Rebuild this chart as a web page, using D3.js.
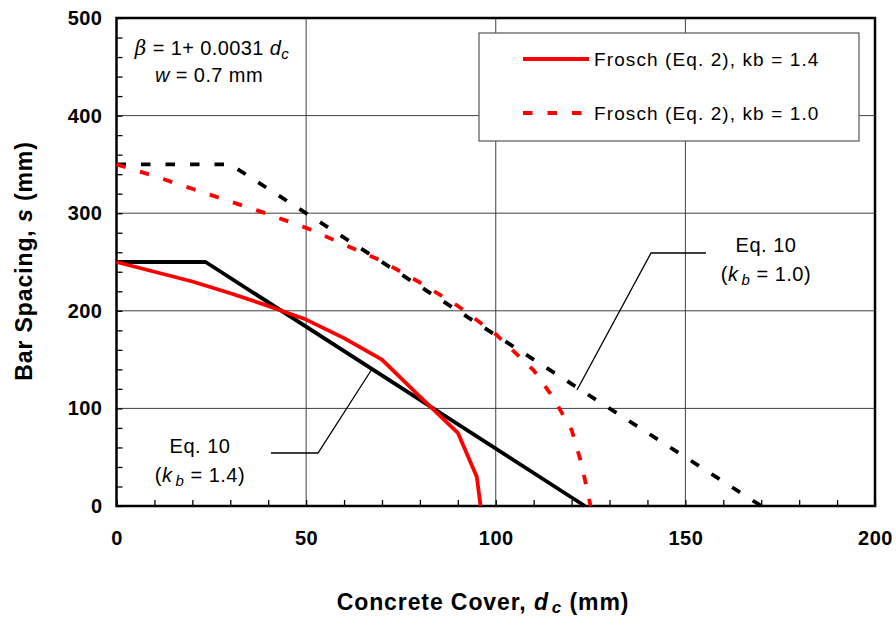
<!DOCTYPE html>
<meta charset="utf-8">
<script src="https://d3js.org/d3.v7.min.js"></script>
<style>
  body { margin: 0; background: #fff; }
  text { font-family: "Liberation Sans", Arial, sans-serif; fill: #000; }
</style>
<div id="chart"></div>
<script>

// data
var coverFroschKb14 = [0, 10, 20, 30, 40, 50, 60, 70, 80, 90, 95, 96];
var spacingFroschKb14 = [250, 240, 230, 218, 205, 191, 172, 150, 112, 75, 30, 0];

var coverFroschKb10 = [0, 10, 20, 30, 40, 50, 60, 70, 80, 90, 100, 110, 115, 120, 122.5, 125];
var spacingFroschKb10 = [350, 338, 325, 312, 299, 285, 268, 251, 229, 205, 176, 139, 112, 78, 45, 0];

var coverEq10Kb14 = [0, 23.5, 123.5];
var spacingEq10Kb14 = [250, 250, 0];

var coverEq10Kb10 = [0, 30, 170];
var spacingEq10Kb10 = [350, 350, 0];

var xTicks = [0, 50, 100, 150, 200];
var yTicks = [0, 100, 200, 300, 400, 500];

var legendLabels = ["Frosch (Eq. 2), kb = 1.4", "Frosch (Eq. 2), kb = 1.0"];

var W = 896, H = 620;
var margin = {top: 18, right: 21, bottom: 114, left: 116.5};
var width = W - margin.left - margin.right,
    height = H - margin.top - margin.bottom;

var svg = d3.select("#chart").append("svg")
    .attr("width", W)
    .attr("height", H);

var g = svg.append("g")
    .attr("transform", "translate(" + margin.left + "," + margin.top + ")");

var x = d3.scaleLinear().domain([0, 200]).range([0, width]);
var y = d3.scaleLinear().domain([0, 500]).range([height, 0]);

// grid
g.append("g").selectAll("line")
  .data(xTicks.slice(1, -1))
  .enter().append("line")
    .attr("x1", d => x(d)).attr("x2", d => x(d))
    .attr("y1", 0).attr("y2", height)
    .attr("stroke", "#404040").attr("stroke-width", 1);
g.append("g").selectAll("line")
  .data(yTicks.slice(1, -1))
  .enter().append("line")
    .attr("x1", 0).attr("x2", width)
    .attr("y1", d => y(d)).attr("y2", d => y(d))
    .attr("stroke", "#404040").attr("stroke-width", 1);

// axes with inward minor ticks
var xAxis = g.append("g")
    .attr("transform", "translate(0," + height + ")")
    .call(d3.axisBottom(x)
      .tickValues(d3.range(0, 201, 10))
      .tickSizeInner(-6).tickSizeOuter(0).tickPadding(25)
      .tickFormat(d => d % 50 === 0 ? d : ""));
var yAxis = g.append("g")
    .call(d3.axisLeft(y)
      .tickValues(d3.range(0, 501, 20))
      .tickSizeInner(-6).tickSizeOuter(0).tickPadding(14)
      .tickFormat(d => d % 100 === 0 ? d : ""));
[xAxis, yAxis].forEach(function(a) {
  a.select(".domain").remove();
  a.selectAll(".tick line").attr("stroke", "#000").attr("stroke-width", 1.3);
  a.selectAll("text")
    .style("font-size", "20px").style("font-weight", "bold")
    .style("letter-spacing", "0.5px")
    .attr("fill", "#000");
});

// plot frame
g.append("rect")
    .attr("width", width).attr("height", height)
    .attr("fill", "none").attr("stroke", "#000").attr("stroke-width", 2.5);

// lines
var line = d3.line().x(d => x(d[0])).y(d => y(d[1]));
function pairs(a, b) { return a.map((v, i) => [v, b[i]]); }

var series = [
  {cover: coverEq10Kb10, s: spacingEq10Kb10, color: "#000", dash: "9.5,15"},
  {cover: coverEq10Kb14, s: spacingEq10Kb14, color: "#000", dash: null},
  {cover: coverFroschKb10, s: spacingFroschKb10, color: "#ff0000", dash: "9.5,15"},
  {cover: coverFroschKb14, s: spacingFroschKb14, color: "#ff0000", dash: null}
];
series.forEach(function(sr) {
  g.append("path")
    .datum(pairs(sr.cover, sr.s))
    .attr("fill", "none")
    .attr("stroke", sr.color)
    .attr("stroke-width", 3.8)
    .attr("stroke-linejoin", "round")
    .attr("stroke-dasharray", sr.dash)
    .attr("d", line);
});

// annotation leaders
svg.append("polyline")
    .attr("points", "271,453 318,453 372,369")
    .attr("fill", "none").attr("stroke", "#000").attr("stroke-width", 1.3);
svg.append("polyline")
    .attr("points", "706,253 651,253 577,390")
    .attr("fill", "none").attr("stroke", "#000").attr("stroke-width", 1.3);

function eqLabel(cx, cy, kb) {
  var t = svg.append("text").attr("text-anchor", "middle")
      .style("font-size", "20px").style("letter-spacing", "0.5px");
  t.append("tspan").attr("x", cx).attr("y", cy).text("Eq. 10");
  var t2 = svg.append("text").attr("text-anchor", "middle")
      .style("font-size", "20px").style("letter-spacing", "0.5px")
      .attr("x", cx).attr("y", cy + 29);
  t2.append("tspan").text("(");
  t2.append("tspan").style("font-style", "italic").text("k");
  t2.append("tspan").style("font-style", "italic").style("font-size", "15px").attr("dy", 4).attr("dx", 3).text("b");
  t2.append("tspan").attr("dy", -4).text(" = " + kb + ")");
}
eqLabel(200, 453, "1.4");
eqLabel(766, 252, "1.0");

// beta / w text
var b = svg.append("text").attr("x", 212).attr("y", 55)
    .attr("text-anchor", "middle").style("font-size", "20px").style("letter-spacing", "0.4px");
b.append("tspan").style("font-family", "'DejaVu Serif', serif").style("font-style", "italic").text("\u03B2");
b.append("tspan").text(" = 1+ 0.0031 ");
b.append("tspan").style("font-style", "italic").text("d");
b.append("tspan").style("font-style", "italic").style("font-size", "15px").attr("dy", 4).text("c");
var w = svg.append("text").attr("x", 209).attr("y", 82)
    .attr("text-anchor", "middle").style("font-size", "20px").style("letter-spacing", "0.4px");
w.append("tspan").style("font-style", "italic").text("w");
w.append("tspan").text(" = 0.7 mm");

// legend
var leg = svg.append("g");
leg.append("rect")
    .attr("x", 479).attr("y", 33).attr("width", 380).attr("height", 108)
    .attr("fill", "#fff").attr("stroke", "#555").attr("stroke-width", 1.2);
legendLabels.forEach(function(lbl, i) {
  var ly = 59 + i * 54;
  leg.append("line")
    .attr("x1", 523).attr("x2", 589).attr("y1", ly).attr("y2", ly)
    .attr("stroke", "#ff0000").attr("stroke-width", 3.8)
    .attr("stroke-dasharray", i === 1 ? "9.5,15" : null);
  leg.append("text").attr("x", 594).attr("y", ly + 7)
    .style("font-size", "19px").style("letter-spacing", "1.1px").text(lbl);
});

// axis titles
var xt = svg.append("text")
    .attr("x", 483).attr("y", 610)
    .attr("text-anchor", "middle")
    .style("font-size", "23px").style("font-weight", "bold").style("letter-spacing", "0.9px");
xt.append("tspan").text("Concrete Cover, ");
xt.append("tspan").style("font-style", "italic").text("d");
xt.append("tspan").style("font-style", "italic").style("font-size", "17px").attr("dy", 3).attr("dx", 3).text("c");
xt.append("tspan").attr("dy", -3).text("  (mm)");

var yt = svg.append("text")
    .attr("transform", "translate(32,261) rotate(-90)")
    .attr("text-anchor", "middle")
    .style("font-size", "23px").style("font-weight", "bold").style("letter-spacing", "0.9px");
yt.append("tspan").text("Bar Spacing, ");
yt.append("tspan").style("font-style", "italic").text("s");
yt.append("tspan").text("  (mm)");

</script>
